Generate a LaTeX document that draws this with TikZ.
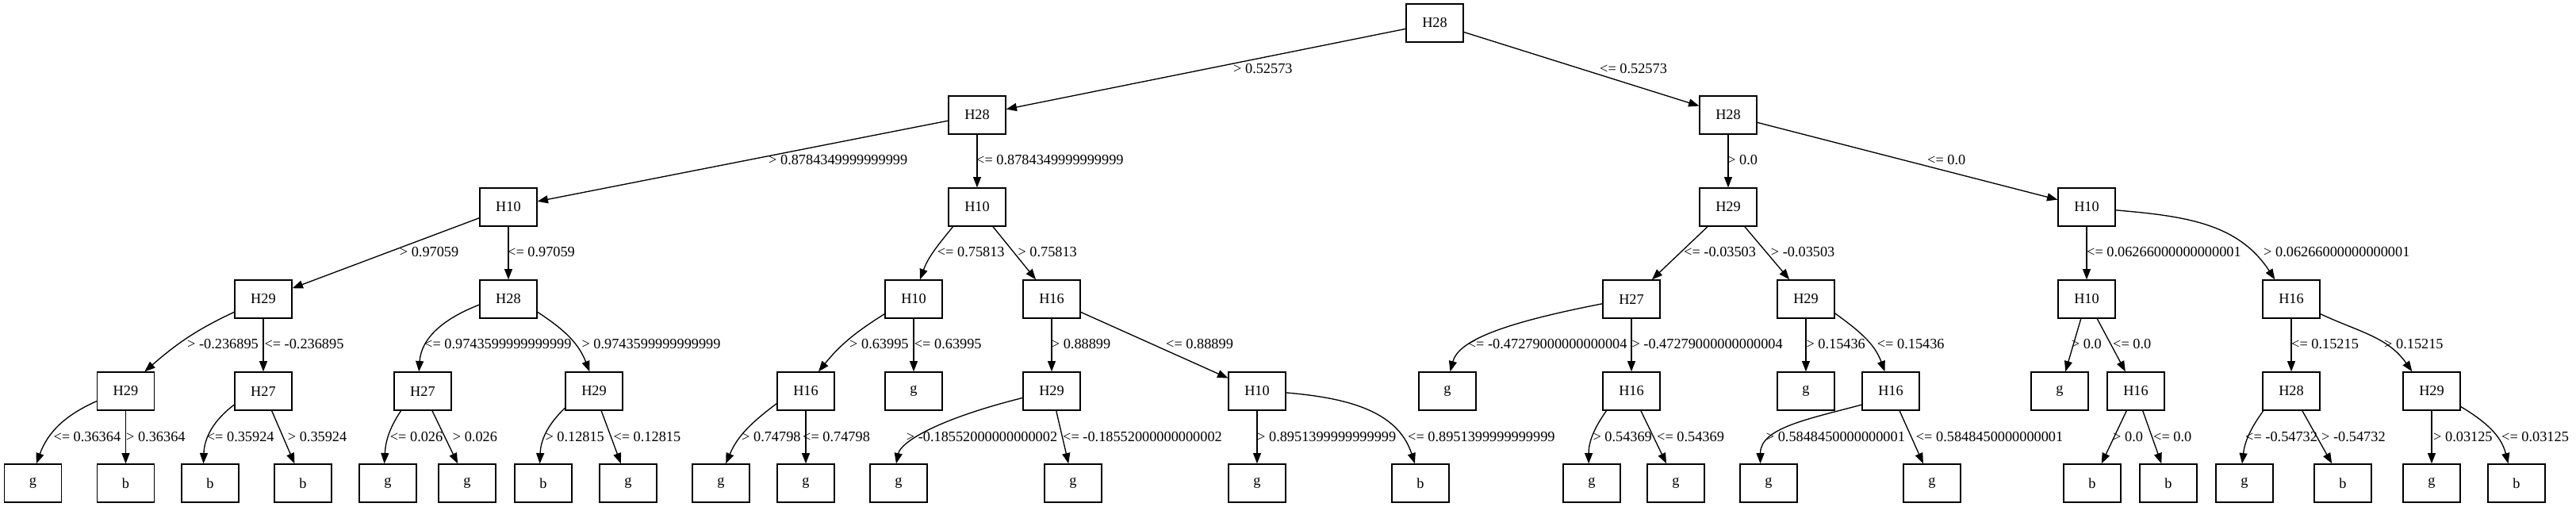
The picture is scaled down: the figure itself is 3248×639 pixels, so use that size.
\documentclass[tikz,border=0pt]{standalone}
\usepackage{fontspec}
\setmainfont{Liberation Serif}
\usetikzlibrary{arrows.meta}
\newcommand\gvfont{\fontsize{18.3}{20}\selectfont}
\tikzset{
  box/.style={draw, line width=1.33pt, minimum width=72pt, minimum height=48pt, inner sep=0pt, font=\gvfont},
  lbl/.style={anchor=west, inner sep=0pt, font=\gvfont},
  edge/.style={line width=1.33pt, -{Triangle[length=13.3pt,width=10pt]}},
}
\begin{document}
\begin{tikzpicture}[x=1pt,y=1pt]
\useasboundingbox (0,0) rectangle (3248,-639);
% row 0
\node[box] (r) at (1809,-29) {H28};
% row 1
\node[box] (a1) at (1232,-145) {H28};
\node[box] (a2) at (2179,-145) {H28};
% row 2
\node[box] (b1) at (641,-261) {H10};
\node[box] (b2) at (1232,-261) {H10};
\node[box] (b3) at (2179,-261) {H29};
\node[box] (b4) at (2631,-261) {H10};
% row 3
\node[box] (c1) at (332,-377) {H29};
\node[box] (c2) at (641,-377) {H28};
\node[box] (c3) at (1152,-377) {H10};
\node[box] (c4) at (1326,-377) {H16};
\node[box] (c5) at (2057,-377) {H27};
\node[box] (c6) at (2277,-377) {H29};
\node[box] (c7) at (2631,-377) {H10};
\node[box] (c8) at (2889,-377) {H16};
% row 4
\node[box] (d1) at (158.5,-493) {H29};
\node[box] (d2) at (332,-493) {H27};
\node[box] (d3) at (533,-493) {H27};
\node[box] (d4) at (749,-493) {H29};
\node[box] (d5) at (1016,-493) {H16};
\node[box] (d6) at (1152,-493) {g};
\node[box] (d7) at (1326,-493) {H29};
\node[box] (d8) at (1585,-493) {H10};
\node[box] (d9) at (1825,-493) {g};
\node[box] (d10) at (2057,-493) {H16};
\node[box] (d11) at (2277,-493) {g};
\node[box] (d12) at (2384,-493) {H16};
\node[box] (d13) at (2597,-493) {g};
\node[box] (d14) at (2693,-493) {H16};
\node[box] (d15) at (2889,-493) {H28};
\node[box] (d16) at (3066,-493) {H29};
% row 5
\node[box] (e1) at (41.5,-609) {g};
\node[box] (e2) at (158.5,-609) {b};
\node[box] (e3) at (265,-609) {b};
\node[box] (e4) at (382,-609) {b};
\node[box] (e5) at (489,-609) {g};
\node[box] (e6) at (589,-609) {g};
\node[box] (e7) at (685,-609) {b};
\node[box] (e8) at (792,-609) {g};
\node[box] (e9) at (909,-609) {g};
\node[box] (e10) at (1016,-609) {g};
\node[box] (e11) at (1133,-609) {g};
\node[box] (e12) at (1353,-609) {g};
\node[box] (e13) at (1585,-609) {g};
\node[box] (e14) at (1791,-609) {b};
\node[box] (e15) at (2007,-609) {g};
\node[box] (e16) at (2113,-609) {g};
\node[box] (e17) at (2230,-609) {g};
\node[box] (e18) at (2436,-609) {g};
\node[box] (e19) at (2638,-609) {b};
\node[box] (e20) at (2734,-609) {b};
\node[box] (e21) at (2830,-609) {g};
\node[box] (e22) at (2954,-609) {b};
\node[box] (e23) at (3066,-609) {g};
\node[box] (e24) at (3173,-609) {b};

% edges row 0-1
\draw[edge] (r) -- (a1);
\draw[edge] (r) -- (a2);
% row 1-2
\draw[edge] (a1) -- (b1);
\draw[edge] (a1) -- (b2);
\draw[edge] (a2) -- (b3);
\draw[edge] (a2) -- (b4);
% row 2-3
\draw[edge] (b1) -- (c1);
\draw[edge] (b1) -- (c2);
\draw[edge] (b2.219) to[out=231,in=70] (c3.72);
\draw[edge] (b2) -- (c4);
\draw[edge] (b3) -- (c5);
\draw[edge] (b3) -- (c6);
\draw[edge] (b4) -- (c7);
\draw[edge] (b4.354) to[out=355,in=123] (c8.130);
% row 3-4
\draw[edge] (c1.204) to[out=205,in=41] (d1.46);
\draw[edge] (c1) -- (d2);
\draw[edge] (c2.191) to[out=201,in=86] (d3.101);
\draw[edge] (c2.336) to[out=327,in=111] (d4.103);
\draw[edge] (c3.207) to[out=212,in=51] (d5.57);
\draw[edge] (c3) -- (d6);
\draw[edge] (c4) -- (d7);
\draw[edge] (c4) -- (d8);
\draw[edge] (c5.189) to[out=191,in=75,out distance=130pt,in distance=40pt] (d9.82);
\draw[edge] (c5) -- (d10);
\draw[edge] (c6) -- (d11);
\draw[edge] (c6.334) to[out=324,in=110] (d12.107);
\draw[edge] (c7) -- (d13);
\draw[edge] (c7) -- (d14);
\draw[edge] (c8) -- (d15);
\draw[edge] (c8.333) to[out=335,in=125] (d16.135);
% row 4-5
\draw[edge] (d1.199) to[out=204,in=70] (e1.80);
\draw[edge] (d1) -- (e2);
\draw[edge] (d2.205) to[out=217,in=88] (e3.109);
\draw[edge] (d2) -- (e4);
\draw[edge] (d3.222) to[out=236,in=87] (e5.100);
\draw[edge] (d3) -- (e6);
\draw[edge] (d4.210) to[out=224,in=88] (e7.100);
\draw[edge] (d4) -- (e8);
\draw[edge] (d5.203) to[out=217,in=67] (e9.76);
\draw[edge] (d5) -- (e10);
\draw[edge] (d7.193) to[out=194,in=78,out distance=110pt,in distance=28pt] (e11.97);
\draw[edge] (d7) -- (e12);
\draw[edge] (d8) -- (e13);
\draw[edge] (d8.357) to[out=355,in=108] (e14.106);
\draw[edge] (d10.218) to[out=235,in=90] (e15.99);
\draw[edge] (d10) -- (e16);
\draw[edge] (d12.205) to[out=195,in=90,out distance=70pt,in distance=45pt] (e17.113);
\draw[edge] (d12) -- (e18);
\draw[edge] (d14) -- (e19);
\draw[edge] (d14) -- (e20);
\draw[edge] (d15.215) to[out=234,in=83] (e21.97);
\draw[edge] (d15) -- (e22);
\draw[edge] (d16) -- (e23);
\draw[edge] (d16.332) to[out=329,in=104] (e24.113);

% labels row 0-1
\node[lbl] (l01) at (1555,-87) {> 0.52573};
\node[lbl] (l02) at (2017,-87) {<= 0.52573};
% row 1-2
\node[lbl] (l11) at (969,-202) {> 0.8784349999999999};
\node[lbl] (l12) at (1231,-202) {<= 0.8784349999999999};
\node[lbl] (l13) at (2178,-202) {> 0.0};
\node[lbl] (l14) at (2430,-202) {<= 0.0};
% row 2-3
\node[lbl] (l21) at (503.7,-318) {> 0.97059};
\node[lbl] (l22) at (640,-318) {<= 0.97059};
\node[lbl] (l23) at (1181.7,-318) {<= 0.75813};
\node[lbl] (l24) at (1283.3,-318) {> 0.75813};
\node[lbl] (l25) at (2123,-318) {<= -0.03503};
\node[lbl] (l26) at (2232.7,-318) {> -0.03503};
\node[lbl] (l27) at (2631,-318) {<= 0.06266000000000001};
\node[lbl] (l28) at (2854,-318) {> 0.06266000000000001};
% row 3-4
\node[lbl] (l31) at (236,-434) {> -0.236895};
\node[lbl] (l32) at (333.3,-434) {<= -0.236895};
\node[lbl] (l33) at (535,-434) {<= 0.9743599999999999};
\node[lbl] (l34) at (733.3,-434) {> 0.9743599999999999};
\node[lbl] (l35) at (1071,-434) {> 0.63995};
\node[lbl] (l36) at (1152.7,-434) {<= 0.63995};
\node[lbl] (l37) at (1325.7,-434) {> 0.88899};
\node[lbl] (l38) at (1470,-434) {<= 0.88899};
\node[lbl] (l39) at (1850.7,-434) {<= -0.47279000000000004};
\node[lbl] (l310) at (2057.3,-434) {> -0.47279000000000004};
\node[lbl] (l311) at (2277.3,-434) {> 0.15436};
\node[lbl] (l312) at (2366.7,-434) {<= 0.15436};
\node[lbl] (l313) at (2611.7,-434) {> 0.0};
\node[lbl] (l314) at (2664,-434) {<= 0.0};
\node[lbl] (l315) at (2889,-434) {<= 0.15215};
\node[lbl] (l316) at (3006,-434) {> 0.15215};
% row 4-5
\node[lbl] (l41) at (67.3,-551) {<= 0.36364};
\node[lbl] (l42) at (159,-551) {> 0.36364};
\node[lbl] (l43) at (260.7,-551) {<= 0.35924};
\node[lbl] (l44) at (362.7,-551) {> 0.35924};
\node[lbl] (l45) at (491.7,-551) {<= 0.026};
\node[lbl] (l46) at (570.7,-551) {> 0.026};
\node[lbl] (l47) at (687.3,-551) {> 0.12815};
\node[lbl] (l48) at (773.3,-551) {<= 0.12815};
\node[lbl] (l49) at (935,-551) {> 0.74798};
\node[lbl] (l410) at (1012,-551) {<= 0.74798};
\node[lbl] (l411) at (1142.7,-551) {> -0.18552000000000002};
\node[lbl] (l412) at (1340,-551) {<= -0.18552000000000002};
\node[lbl] (l413) at (1585,-551) {> 0.8951399999999999};
\node[lbl] (l414) at (1775,-551) {<= 0.8951399999999999};
\node[lbl] (l415) at (2008.3,-551) {> 0.54369};
\node[lbl] (l416) at (2089,-551) {<= 0.54369};
\node[lbl] (l417) at (2226.7,-551) {> 0.5848450000000001};
\node[lbl] (l418) at (2415.7,-551) {<= 0.5848450000000001};
\node[lbl] (l419) at (2664,-551) {> 0.0};
\node[lbl] (l420) at (2715,-551) {<= 0.0};
\node[lbl] (l421) at (2831,-551) {<= -0.54732};
\node[lbl] (l422) at (2927,-551) {> -0.54732};
\node[lbl] (l423) at (3068,-551) {> 0.03125};
\node[lbl] (l424) at (3154,-551) {<= 0.03125};
\end{tikzpicture}
\end{document}
